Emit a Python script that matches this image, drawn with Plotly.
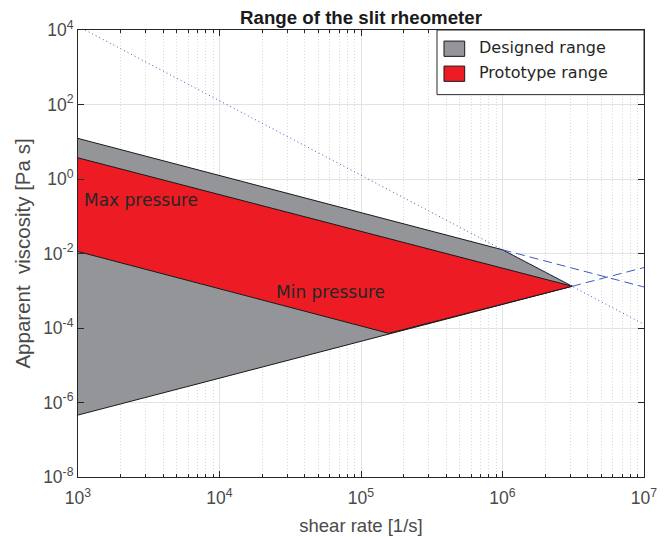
import plotly.graph_objects as go

# ---- data ----
designed_x = [1e3, 1.0e6, 3.11e6, 1e3]
designed_y = [12.3, 0.0126, 1.32e-3, 4.6e-7]

prototype_x = [1e3, 3.11e6, 1.57e5, 1e3]
prototype_y = [3.7, 1.32e-3, 7.2e-5, 0.0113]

limit_dotted_x = [1e3, 1e7]
limit_dotted_y = [1.26e4, 1.26e-4]

max_ext_x = [1.0e6, 1e7]
max_ext_y = [0.0126, 1.26e-3]

min_ext_x = [3.11e6, 1e7]
min_ext_y = [1.32e-3, 4.2e-3]

x_tick_exp = [3, 4, 5, 6, 7]
y_tick_exp = [-8, -6, -4, -2, 0, 2, 4]
x_tick_vals = [10.0 ** e for e in x_tick_exp]
y_tick_vals = [10.0 ** e for e in y_tick_exp]
x_tick_text = [f"10<sup>{e}</sup>" for e in x_tick_exp]
y_tick_text = [f"10<sup>{e}</sup>" for e in y_tick_exp]
x_minor_vals = [k * 10.0 ** e for e in range(3, 7) for k in range(2, 10)]

legend_names = ["Designed range", "Prototype range"]

GRAY = "#939598"
RED = "#ED1C24"
BLUE = "#3a5cc0"
AXC = "#262626"
TICKC = "#4a4a4a"

fig = go.Figure()
fig.add_trace(go.Scatter(x=designed_x, y=designed_y, fill="toself", mode="lines",
                         fillcolor=GRAY, line=dict(color="#1a1a1a", width=1),
                         name=legend_names[0], showlegend=False))
fig.add_trace(go.Scatter(x=prototype_x, y=prototype_y, fill="toself", mode="lines",
                         fillcolor=RED, line=dict(color="#1a1a1a", width=1),
                         name=legend_names[1], showlegend=False))
fig.add_trace(go.Scatter(x=limit_dotted_x, y=limit_dotted_y, mode="lines",
                         line=dict(color=BLUE, width=1, dash="1px,3px"), showlegend=False))
fig.add_trace(go.Scatter(x=max_ext_x, y=max_ext_y, mode="lines",
                         line=dict(color=BLUE, width=1, dash="9px,5px"), showlegend=False))
fig.add_trace(go.Scatter(x=min_ext_x, y=min_ext_y, mode="lines",
                         line=dict(color=BLUE, width=1, dash="9px,5px"), showlegend=False))

tickfont = dict(family="Liberation Sans, Arial, sans-serif", size=17.5, color=TICKC)

fig.update_layout(
    width=672, height=537,
    margin=dict(l=78, r=28, t=30, b=60),
    paper_bgcolor="white", plot_bgcolor="white",
    showlegend=False,
    title=dict(text="<b>Range of the slit rheometer</b>", x=361 / 672, xanchor="center",
               y=1 - 17 / 537, yanchor="middle",
               font=dict(family="Liberation Sans, Arial, sans-serif", size=18.7, color="#1a1a1a")),
    xaxis=dict(type="log", range=[3, 7], tickmode="array", tickvals=x_tick_vals,
               ticktext=x_tick_text, tickfont=tickfont, ticks="inside", ticklen=6,
               ticklabelstandoff=5,
               tickcolor=AXC, showline=True, linecolor=AXC, linewidth=1, mirror="ticks",
               showgrid=True, gridcolor="#e3e3e3", gridwidth=1, zeroline=False,
               automargin=False,
               minor=dict(tickmode="array", tickvals=x_minor_vals, ticks="inside", ticklen=3,
                          tickcolor=AXC, showgrid=True, gridcolor="#dcdcdc", griddash="1px,2px"),
               title=dict(text="shear rate [1/s]", standoff=12,
                          font=dict(family="Liberation Sans, Arial, sans-serif", size=18.5,
                                    color=TICKC))),
    yaxis=dict(type="log", range=[-8, 4], tickmode="array", tickvals=y_tick_vals,
               ticktext=y_tick_text, tickfont=tickfont, ticks="inside", ticklen=6,
               tickcolor=AXC, showline=True, linecolor=AXC, linewidth=1, mirror="ticks",
               showgrid=True, gridcolor="#e3e3e3", gridwidth=1, zeroline=False,
               automargin=False,
               title=dict(text="Apparent  viscosity [Pa s]", standoff=6,
                          font=dict(family="Liberation Sans, Arial, sans-serif", size=20.5,
                                    color=TICKC))),
)

# manual legend (MATLAB style box with square swatches)
shapes = [
    dict(type="rect", xref="paper", yref="paper", x0=0.6343, x1=1.0, y0=0.8554, y1=1.0,
         fillcolor="white", line=dict(color=AXC, width=1), layer="above"),
    dict(type="rect", xref="paper", yref="paper", x0=0.6466, x1=0.6832, y0=0.941, y1=0.9752,
         fillcolor=GRAY, line=dict(color="#1a1a1a", width=1), layer="above"),
    dict(type="rect", xref="paper", yref="paper", x0=0.6466, x1=0.6832, y0=0.8851, y1=0.9193,
         fillcolor=RED, line=dict(color="#1a1a1a", width=1), layer="above"),
]
fig.update_layout(shapes=shapes)

legfont = dict(family="DejaVu Sans, sans-serif", size=16, color="#262626")
annots = [
    dict(xref="paper", yref="paper", x=0.7057, y=0.9604, text=legend_names[0],
         showarrow=False, xanchor="left", yanchor="middle", font=legfont),
    dict(xref="paper", yref="paper", x=0.7057, y=0.9046, text=legend_names[1],
         showarrow=False, xanchor="left", yanchor="middle", font=legfont),
    dict(xref="x", yref="y", x=3.025, y=-0.56, text="Max pressure", showarrow=False,
         xanchor="left", yanchor="middle",
         font=dict(family="DejaVu Sans, sans-serif", size=17, color="#262626")),
    dict(xref="x", yref="y", x=4.385, y=-3.044, text="Min pressure", showarrow=False,
         xanchor="left", yanchor="middle",
         font=dict(family="DejaVu Sans, sans-serif", size=17, color="#262626")),
]
fig.update_layout(annotations=annots)

fig.write_html("out.html", config={"displayModeBar": False},
               post_script="document.body.style.margin='0';document.body.style.overflow='hidden';")
